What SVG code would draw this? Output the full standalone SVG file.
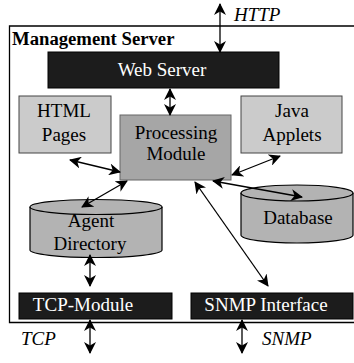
<svg xmlns="http://www.w3.org/2000/svg" width="354" height="363" viewBox="0 0 354 363" font-family="'Liberation Serif', 'Times New Roman', 'DejaVu Serif', serif">
  <defs>
    <marker id="ah" viewBox="0 0 12 12" refX="11" refY="6" markerWidth="12" markerHeight="12" markerUnits="userSpaceOnUse" orient="auto-start-reverse">
      <path d="M0,0 L12,6 L0,12 L3.5,6 Z" fill="#000"/>
    </marker>
  </defs>
  <style>
    text { font-family: 'Liberation Serif', 'Times New Roman', 'DejaVu Serif', serif; font-size: 19px; fill: #000; }
    .title { font-weight: bold; font-size: 18.7px; }
    .label { font-style: italic; }
    .c { text-anchor: middle; }
    .w { fill: #fff; }
    .dark { fill: #1c1c1c; stroke: #000; stroke-width: 1; }
    .light { fill: #cbcbcb; stroke: #444; stroke-width: 1; }
    .mid { fill: #a6a6a6; stroke: #666; stroke-width: 1; }
    .cyl { fill: #b3b3b3; stroke: #000; stroke-width: 1.2; }
    .conn line { stroke: #000; stroke-width: 1.3; marker-start: url(#ah); marker-end: url(#ah); }
  </style>
  <rect width="354" height="363" fill="#fff"/>

  <!-- server frame -->
  <g id="management-server">
    <path d="M354,26 H9.5 V322.5 H354" fill="none" stroke="#000" stroke-width="1.3"/>
    <text class="title" x="12" y="45">Management Server</text>
  </g>

  <g id="web-server">
    <rect class="dark" x="48" y="52" width="231" height="36"/>
    <text class="w c" x="162" y="76">Web Server</text>
  </g>

  <g id="html-pages">
    <rect class="light" x="19" y="96" width="92" height="57"/>
    <text class="c" x="64" y="117">HTML</text>
    <text class="c" x="64" y="141">Pages</text>
  </g>

  <g id="java-applets">
    <rect class="light" x="241" y="96" width="101" height="57"/>
    <text class="c" x="292" y="117">Java</text>
    <text class="c" x="292" y="141">Applets</text>
  </g>

  <g id="processing-module">
    <rect class="mid" x="120" y="115" width="111" height="65"/>
    <text class="c" x="176" y="139">Processing</text>
    <text class="c" x="176" y="160">Module</text>
  </g>

  <g id="agent-directory">
    <path class="cyl" d="M30,207 V250 A66,7.5 0 0 0 162,250 V207 A66,7.5 0 0 0 30,207 Z"/>
    <path d="M30,207 A66,7.5 0 0 0 162,207" fill="none" stroke="#000" stroke-width="1.2"/>
    <text class="c" x="91" y="227">Agent</text>
    <text class="c" x="90" y="250">Directory</text>
  </g>

  <g id="database">
    <path class="cyl" d="M241,193 V235 A56,8 0 0 0 353,235 V193 A56,8 0 0 0 241,193 Z"/>
    <path d="M241,193 A56,8 0 0 0 353,193" fill="none" stroke="#000" stroke-width="1.2"/>
    <text class="c" x="298" y="224">Database</text>
  </g>

  <g id="tcp-module">
    <rect class="dark" x="19" y="293" width="153" height="26"/>
    <text class="w c" x="83" y="311">TCP-Module</text>
  </g>

  <g id="snmp-interface">
    <rect class="dark" x="191" y="293" width="162" height="26"/>
    <text class="w c" x="266" y="311">SNMP Interface</text>
  </g>

  <g id="external-labels">
    <text class="label" x="234" y="21">HTTP</text>
    <text class="label" x="21" y="345">TCP</text>
    <text class="label" x="262" y="345">SNMP</text>
  </g>

  <g class="conn" id="connectors">
    <line x1="220" y1="4" x2="220" y2="52"/>
    <line x1="170" y1="89" x2="170" y2="115"/>
    <line x1="70" y1="160" x2="120" y2="172"/>
    <line x1="280" y1="156" x2="232" y2="175"/>
    <line x1="127" y1="181" x2="82" y2="207"/>
    <line x1="213" y1="181" x2="302" y2="197"/>
    <line x1="195" y1="182" x2="268" y2="286"/>
    <line x1="90" y1="255" x2="90" y2="286"/>
    <line x1="90" y1="320" x2="90" y2="353"/>
    <line x1="242" y1="320" x2="242" y2="353"/>
  </g>
</svg>
